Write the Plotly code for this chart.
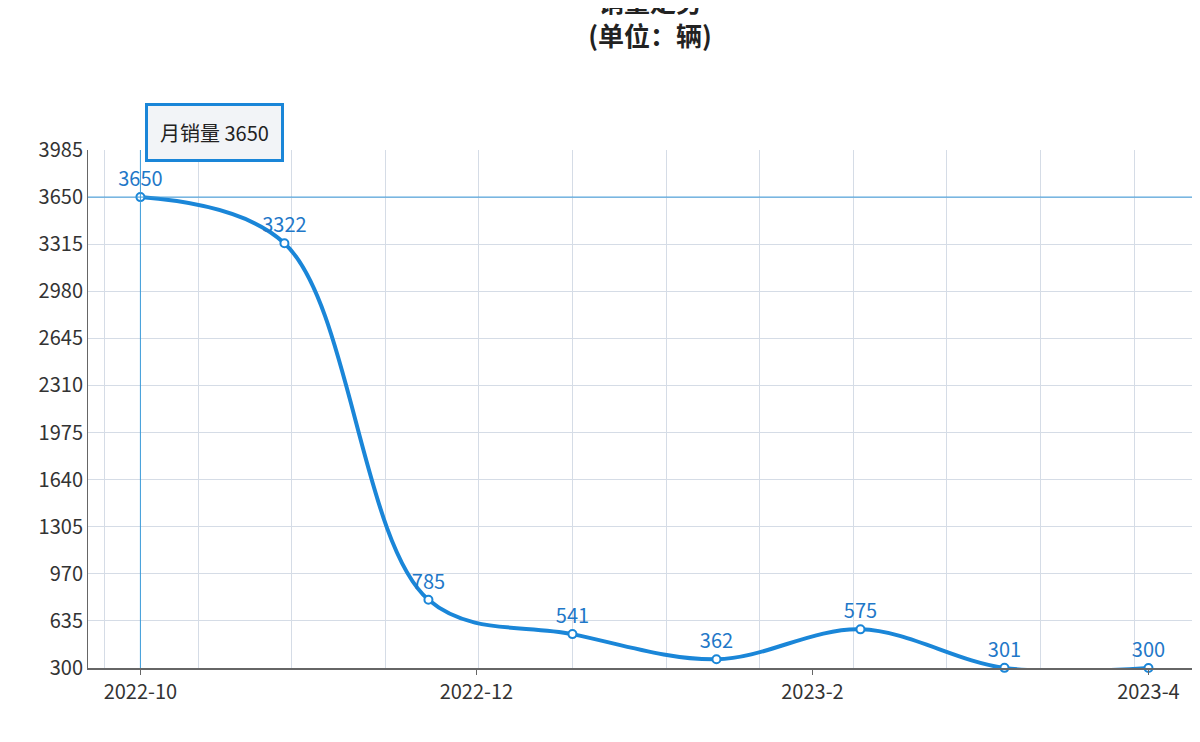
import plotly.graph_objects as go

x_idx = [0, 1, 2, 3, 4, 5, 6, 7]
sales = [3650, 3322, 785, 541, 362, 575, 301, 300]
tick_pos = [0, 7/3, 14/3, 7]
tick_labels = ["2022-10", "2022-12", "2023-2", "2023-4"]
y_ticks = [300, 635, 970, 1305, 1640, 1975, 2310, 2645, 2980, 3315, 3650, 3985]

blue = "#1a86d8"
font = "Noto Sans CJK SC"
fig = go.Figure()
fig.add_trace(go.Scatter(
    x=x_idx, y=sales, mode="lines+markers+text",
    line=dict(color=blue, width=4, shape="spline", smoothing=1.0),
    marker=dict(size=8, color="white", line=dict(color=blue, width=2)),
    text=[str(v) for v in sales], textposition="top center",
    textfont=dict(color="#1f78c8", size=20, family=font),
    cliponaxis=False,
))
fig.add_shape(type="line", xref="paper", x0=0, x1=1, y0=sales[0], y1=sales[0],
              line=dict(color="#3a9ad9", width=1))
fig.add_shape(type="line", yref="paper", x0=0, x1=0, y0=0, y1=1,
              line=dict(color="#3a9ad9", width=1))
fig.add_annotation(x=0.03, y=1.09, xref="x", yref="paper", text="月销量 3650",
                   showarrow=False, xanchor="left", font=dict(size=20, family=font, color="#222"),
                   bgcolor="#f2f4f7", bordercolor="#1a86d8", borderwidth=3, borderpad=12)
fig.update_layout(
    width=1200, height=742, paper_bgcolor="white", plot_bgcolor="white",
    margin=dict(l=80, r=12, t=142, b=82),
    showlegend=False,
    title=dict(text="<b>销量走势</b><br><b>(单位：辆)</b>", x=0.535, xanchor="center",
               y=0.995, yanchor="top", font=dict(size=26, family=font, color="#222")),
    font=dict(family=font),
)
fig.update_xaxes(range=[-0.364, 7.33], tickvals=tick_pos, ticktext=tick_labels,
                 showgrid=False, zeroline=False, showline=True, linecolor="#666", linewidth=2,
                 ticks="outside", tickcolor="#666", tickfont=dict(size=20, color="#333"),
                 minor=dict(tick0=-0.9, dtick=0.65, showgrid=True, gridcolor="#d5dce6"))
fig.update_yaxes(range=[300, 3985], tickvals=y_ticks, gridcolor="#d5dce6", zeroline=False,
                 showline=True, linecolor="#666", tickfont=dict(size=20, color="#333"))
fig.write_html("out.html")
